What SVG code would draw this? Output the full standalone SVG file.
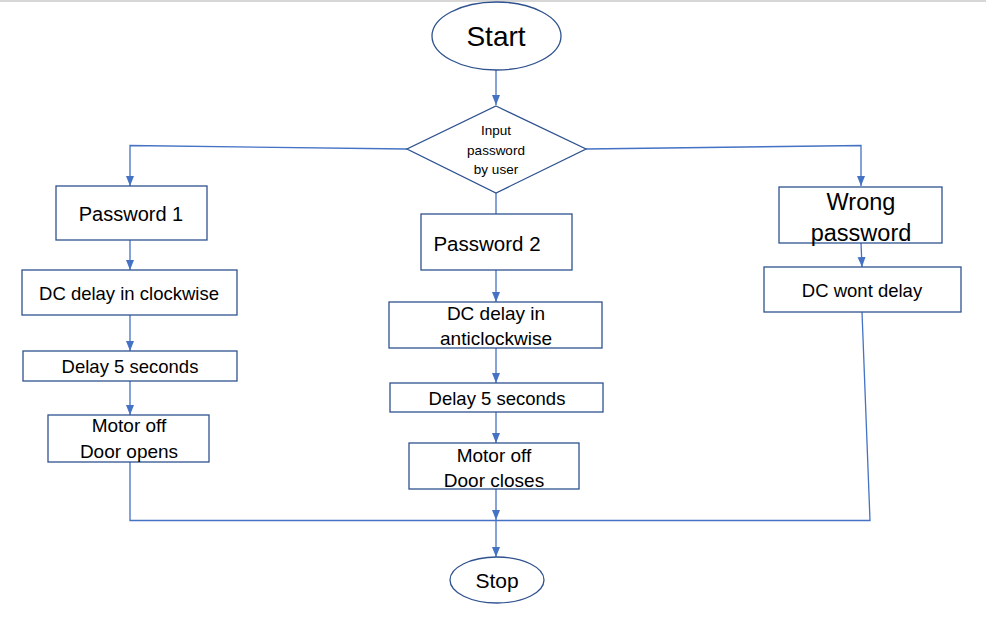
<svg xmlns="http://www.w3.org/2000/svg" width="986" height="617" viewBox="0 0 986 617">
<defs>
<marker id="ah" markerUnits="userSpaceOnUse" markerWidth="10" markerHeight="10" viewBox="0 0 10 10" refX="10" refY="5" orient="auto">
<path d="M0,1 L10,5 L0,9 Z" fill="#4472C4"/>
</marker>
<style>
.n{fill:#fff;stroke:#2F528F;stroke-width:1.3}
.c{fill:none;stroke:#4472C4;stroke-width:1.3}
.a{marker-end:url(#ah)}
text{font-family:"Liberation Sans",Arial,sans-serif;fill:#000;text-anchor:middle}
</style>
</defs>
<rect width="986" height="617" fill="#fff"/>
<line x1="0" y1="1" x2="986" y2="1" stroke="#c8c8c8" stroke-width="1.5"/>
<g id="connectors">
<line class="c a" x1="496" y1="70" x2="496" y2="105"/>
<polyline class="c a" points="407,149 130,145.5 130,186"/>
<line class="c a" x1="130" y1="240" x2="130" y2="270"/>
<line class="c a" x1="130" y1="315" x2="130" y2="351"/>
<line class="c a" x1="130" y1="381" x2="130" y2="415"/>
<line class="c" x1="496" y1="193" x2="496" y2="214"/>
<line class="c a" x1="496" y1="270" x2="496" y2="302"/>
<line class="c a" x1="496" y1="348" x2="496" y2="383"/>
<line class="c a" x1="496" y1="412" x2="496" y2="443"/>
<polyline class="c a" points="586,149 861,145.5 861,186"/>
<line class="c a" x1="861" y1="243" x2="862" y2="267"/>
<polyline class="c" points="130,462 130,520.5 870,520.5 862,312"/>
<line class="c a" x1="496" y1="489" x2="496" y2="520"/>
<line class="c a" x1="496" y1="520" x2="496" y2="557"/>
</g>
<g id="start">
<ellipse class="n" cx="496.5" cy="36" rx="64.5" ry="34"/>
<text x="496" y="46" font-size="28">Start</text>
</g>
<g id="decision">
<polygon class="n" points="496,106 586,149 496,193 407,149"/>
<text x="496" y="135" font-size="13.5">Input</text>
<text x="496" y="155" font-size="13.5">password</text>
<text x="496" y="174" font-size="13.5">by user</text>
</g>
<g id="password1">
<rect class="n" x="56" y="186" width="151" height="54"/>
<text x="131" y="221" font-size="20">Password 1</text>
</g>
<g id="dc-clockwise">
<rect class="n" x="22" y="270" width="215" height="45"/>
<text x="129" y="300" font-size="18.5">DC delay in clockwise</text>
</g>
<g id="delay1">
<rect class="n" x="23" y="351" width="214" height="30"/>
<text x="130" y="373" font-size="18.5">Delay 5 seconds</text>
</g>
<g id="door-opens">
<rect class="n" x="48" y="415" width="161" height="47"/>
<text x="129" y="432" font-size="19">Motor off</text>
<text x="129" y="458" font-size="19">Door opens</text>
</g>
<g id="password2">
<rect class="n" x="421" y="214" width="151" height="56"/>
<text x="487" y="251" font-size="20.5">Password 2</text>
</g>
<g id="dc-anticlockwise">
<rect class="n" x="389" y="302" width="213" height="46"/>
<text x="496" y="320" font-size="19">DC delay in</text>
<text x="496" y="345" font-size="19">anticlockwise</text>
</g>
<g id="delay2">
<rect class="n" x="390" y="383" width="213" height="29"/>
<text x="497" y="405" font-size="18.5">Delay 5 seconds</text>
</g>
<g id="door-closes">
<rect class="n" x="409" y="443" width="170" height="46"/>
<text x="494" y="462" font-size="19">Motor off</text>
<text x="494" y="487" font-size="19">Door closes</text>
</g>
<g id="wrong">
<rect class="n" x="779" y="187" width="163" height="56"/>
<text x="861" y="210" font-size="23.5">Wrong</text>
<text x="861" y="241" font-size="23.5">password</text>
</g>
<g id="dc-wont">
<rect class="n" x="764" y="267" width="197" height="45"/>
<text x="862" y="297" font-size="18.5">DC wont delay</text>
</g>
<g id="stop">
<ellipse class="n" cx="497" cy="580" rx="47" ry="23"/>
<text x="497" y="588" font-size="21">Stop</text>
</g>
</svg>
